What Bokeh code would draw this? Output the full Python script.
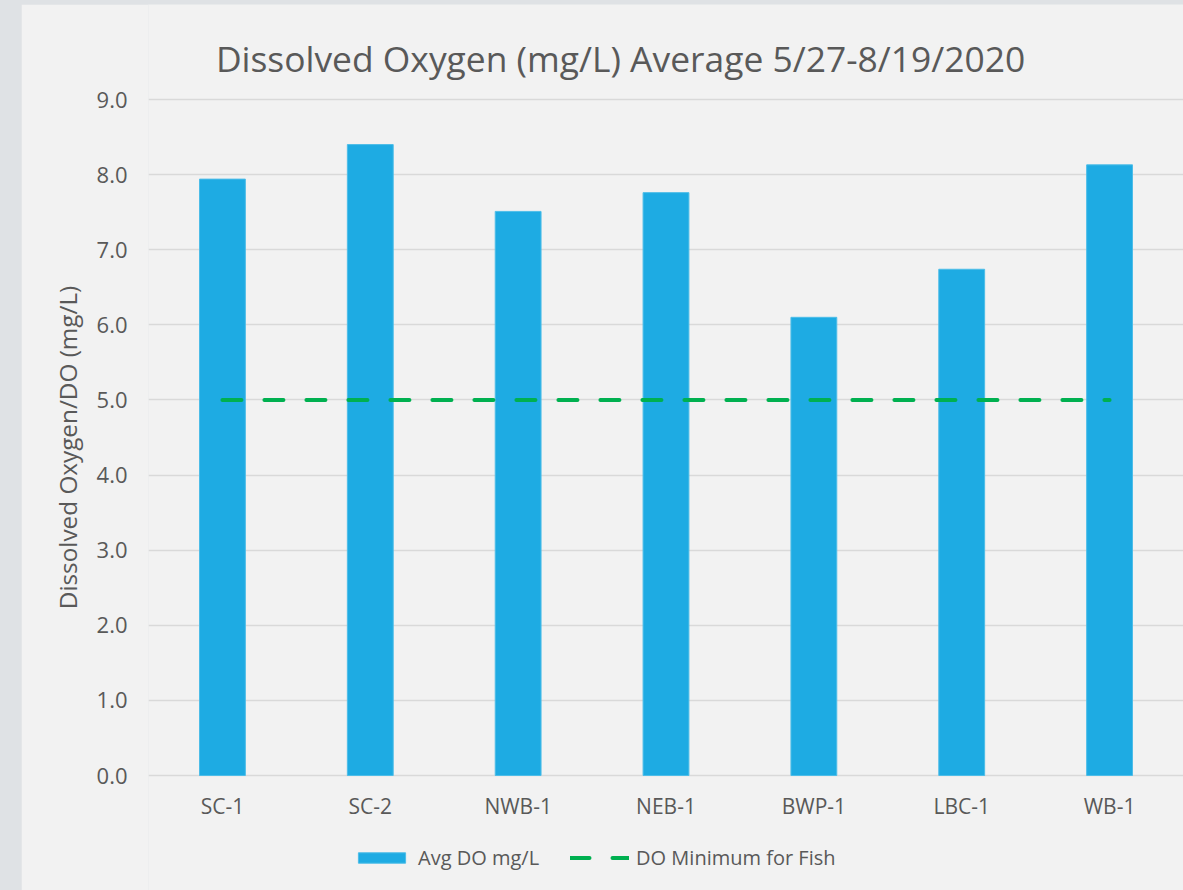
from bokeh.plotting import figure
from bokeh.models import (Legend, LegendItem, Label, FixedTicker, NumeralTickFormatter,
                          ColumnDataSource, FactorRange, Range1d)
from bokeh.embed import file_html
from bokeh.resources import INLINE

# ---- data ----
sites = ["SC-1", "SC-2", "NWB-1", "NEB-1", "BWP-1", "LBC-1", "WB-1"]
avg_do = [7.94, 8.40, 7.51, 7.76, 6.10, 6.74, 8.13]
do_min = [5.0, 5.0, 5.0, 5.0, 5.0, 5.0, 5.0]
y_ticks = [0, 1, 2, 3, 4, 5, 6, 7, 8, 9]
title_text = "Dissolved Oxygen (mg/L) Average 5/27-8/19/2020"
y_label = "Dissolved Oxygen/DO (mg/L)"
series_names = ["Avg DO mg/L", "DO Minimum for Fish"]

FONT = "Open Sans"
TXT = "#595959"
BG = "#f2f2f2"
BAR = "#1eabe3"
GREEN = "#00b050"

# The frame fills the whole chart box vertically; the value axis covers 0..9
# (676 px), the space above holds the title and the space below the labels/legend.
Y_MAX = 9
PX_PER_UNIT = 676 / Y_MAX
Y_TOP = 771 / PX_PER_UNIT
Y_BOTTOM = -115 / PX_PER_UNIT

src = ColumnDataSource(dict(site=sites, avg=avg_do, mn=do_min))

p = figure(x_range=FactorRange(*sites), y_range=Range1d(Y_BOTTOM, Y_TOP),
           width=1162, height=886, output_backend="svg", toolbar_location=None,
           min_border_left=127, min_border_right=0, min_border_top=0, min_border_bottom=0)
p.background_fill_color = BG
p.border_fill_color = BG
p.outline_line_color = None
p.x_range.range_padding = 0

bars = p.vbar(x="site", top="avg", width=0.31, source=src, fill_color=BAR,
              line_color="#4dbde8", line_width=1)
line = p.line(x="site", y="mn", source=src, line_color=GREEN, line_width=4,
              line_dash="19 23", line_cap="round")

# category labels, hung just under the 0 line
p.text(x="site", y=0, text="site", source=src, y_offset=30,
       text_align="center", text_baseline="middle",
       text_font={"value": FONT}, text_font_size="21px", text_color=TXT)

# grid
p.xgrid.grid_line_color = None
p.ygrid.grid_line_color = "#d9d9d9"
p.ygrid.grid_line_width = 1.5

# y axis
p.yaxis.ticker = FixedTicker(ticks=y_ticks)
p.yaxis.bounds = (0, Y_MAX + 0.5)
p.yaxis.formatter = NumeralTickFormatter(format="0.0")
p.yaxis.axis_line_color = None
p.yaxis.major_tick_line_color = None
p.yaxis.minor_tick_line_color = None
p.yaxis.major_tick_out = 0
p.yaxis.major_label_standoff = 21
p.yaxis.major_label_text_font = FONT
p.yaxis.major_label_text_font_size = "22px"
p.yaxis.major_label_text_color = TXT
p.yaxis.axis_label = y_label
p.yaxis.axis_label_text_font = FONT
p.yaxis.axis_label_text_font_size = "24.3px"
p.yaxis.axis_label_text_font_style = "normal"
p.yaxis.axis_label_text_color = TXT
p.yaxis.axis_label_standoff = 10

# x axis: its labels are drawn as text above, so the axis panel is hidden
p.xaxis.visible = False

# title
title = Label(x=472, y=833, x_units="screen", y_units="screen", text=title_text,
              text_align="center", text_baseline="alphabetic",
              text_font=FONT, text_font_size="35.4px", text_color=TXT)
p.add_layout(title)

legend = Legend(items=[LegendItem(label=series_names[0], renderers=[bars]),
                       LegendItem(label=series_names[1], renderers=[line])],
                location=(204, 19), orientation="horizontal",
                glyph_width=59, glyph_height=13, label_standoff=7, spacing=31,
                padding=0, margin=0, border_line_alpha=0, background_fill_alpha=0,
                label_text_font=FONT, label_text_font_size="20px", label_text_color=TXT)
p.add_layout(legend)

html = file_html(p, INLINE)
css = ("<style>html,body{margin:0 !important;background:#dfe2e5 !important;overflow:hidden !important;}"
       "body{padding:4px 0 0 21px !important;}</style>")
html = html.replace("</head>", css + "</head>", 1)
open("out.html", "w").write(html)
